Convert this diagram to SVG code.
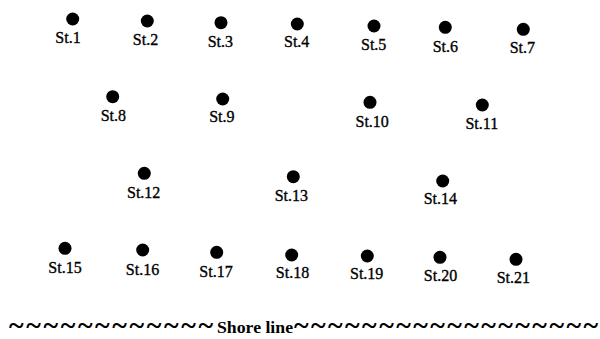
<svg xmlns="http://www.w3.org/2000/svg" width="600" height="339" viewBox="0 0 600 339">
<style>
.dot{fill:#000}
.lbl{font-family:"Liberation Serif","Times New Roman",serif;font-size:16px;fill:#000;text-anchor:middle;stroke:#000;stroke-width:0.35}
.tl{font-family:"Liberation Serif","Times New Roman",serif;font-size:28px;font-weight:bold;fill:#000}
.sl{font-family:"Liberation Serif","Times New Roman",serif;font-size:17px;font-weight:bold;fill:#000}
</style>
<rect width="600" height="339" fill="#fff"/>
<g id="st1"><circle class="dot" cx="72.7" cy="19" r="6.5"/><text class="lbl" x="68" y="43.3">St.1</text></g>
<g id="st2"><circle class="dot" cx="147.3" cy="21" r="6.5"/><text class="lbl" x="145.5" y="45">St.2</text></g>
<g id="st3"><circle class="dot" cx="221" cy="22.7" r="6.5"/><text class="lbl" x="220.3" y="46.7">St.3</text></g>
<g id="st4"><circle class="dot" cx="297.3" cy="24" r="6.5"/><text class="lbl" x="296.7" y="47.3">St.4</text></g>
<g id="st5"><circle class="dot" cx="374" cy="26" r="6.5"/><text class="lbl" x="373.7" y="50">St.5</text></g>
<g id="st6"><circle class="dot" cx="445.3" cy="27.3" r="6.5"/><text class="lbl" x="445.3" y="51.7">St.6</text></g>
<g id="st7"><circle class="dot" cx="523.3" cy="29.3" r="6.5"/><text class="lbl" x="522.3" y="53.3">St.7</text></g>
<g id="st8"><circle class="dot" cx="112.7" cy="96.7" r="6.5"/><text class="lbl" x="113.3" y="120.7">St.8</text></g>
<g id="st9"><circle class="dot" cx="222.7" cy="99" r="6.5"/><text class="lbl" x="221.8" y="122.3">St.9</text></g>
<g id="st10"><circle class="dot" cx="370" cy="102.3" r="6.5"/><text class="lbl" x="372.2" y="126.7">St.10</text></g>
<g id="st11"><circle class="dot" cx="482.3" cy="105" r="6.5"/><text class="lbl" x="481.8" y="129">St.11</text></g>
<g id="st12"><circle class="dot" cx="144.3" cy="173.3" r="6.5"/><text class="lbl" x="143.7" y="197.7">St.12</text></g>
<g id="st13"><circle class="dot" cx="293.3" cy="176.7" r="6.5"/><text class="lbl" x="291.3" y="201">St.13</text></g>
<g id="st14"><circle class="dot" cx="442.7" cy="181" r="6.5"/><text class="lbl" x="440.3" y="204.3">St.14</text></g>
<g id="st15"><circle class="dot" cx="65" cy="248.3" r="6.5"/><text class="lbl" x="65" y="273.3">St.15</text></g>
<g id="st16"><circle class="dot" cx="142.7" cy="250" r="6.5"/><text class="lbl" x="142.5" y="275">St.16</text></g>
<g id="st17"><circle class="dot" cx="216.7" cy="252.3" r="6.5"/><text class="lbl" x="216" y="276.7">St.17</text></g>
<g id="st18"><circle class="dot" cx="291.7" cy="255" r="6.5"/><text class="lbl" x="292.5" y="278.3">St.18</text></g>
<g id="st19"><circle class="dot" cx="367.3" cy="256" r="6.5"/><text class="lbl" x="366.7" y="279">St.19</text></g>
<g id="st20"><circle class="dot" cx="440" cy="257.3" r="6.5"/><text class="lbl" x="440.5" y="281">St.20</text></g>
<g id="st21"><circle class="dot" cx="516" cy="259.3" r="6.5"/><text class="lbl" x="513.3" y="282.7">St.21</text></g>
<g id="shore">
<text class="tl" x="9" y="334" textLength="204" lengthAdjust="spacing">~~~~~~~~~~~~</text>
<text class="sl" x="217" y="333" textLength="76" lengthAdjust="spacingAndGlyphs">Shore line</text>
<text class="tl" x="294" y="334" textLength="304" lengthAdjust="spacing">~~~~~~~~~~~~~~~~~~</text>
</g>
</svg>
